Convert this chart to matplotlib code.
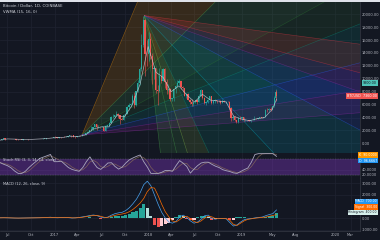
import numpy as np
import pandas as pd
import matplotlib
matplotlib.use('Agg')
import matplotlib.pyplot as plt
import matplotlib.dates as mdates
from matplotlib.patches import Polygon, Rectangle

# ---- data: BTC/USD (Coinbase), weekly candles + last two partial candles ----
candle_dates = list(pd.date_range('2016-06-01', periods=154, freq='7D')) + \
    [pd.Timestamp('2019-05-14'), pd.Timestamp('2019-05-17')]
first_open = 530
closes = [575, 690, 760, 665, 700, 650, 680, 660, 625, 590, 570, 580, 573,
          610, 608, 610, 602, 612, 617, 640, 655, 700, 712, 703, 730, 731,
          766, 770, 790, 890,
          # 2017
          1000, 910, 820, 925, 920, 1020, 1000, 1055, 1175, 1275, 1230, 970, 965,
          1090, 1210, 1180, 1250, 1350, 1590, 1790, 2050, 2200, 2520, 2950, 2530, 2530,
          2500, 2500, 1930, 2750, 2750, 3220, 4060, 4090, 4350, 4580, 4320, 3700, 3660,
          4400, 4600, 5680, 5980, 6140, 7400, 5870, 8040, 9300,
          11500, 15200, 19100, 13900, 13800,
          # 2018
          16200, 13600, 11500, 11700, 8200, 8100, 10400, 9650, 11500, 9550, 8200, 8450,
          6850, 7000, 8350, 8900, 9350, 9650, 8700, 8500, 7350, 7700, 6750, 6450, 6150,
          6350, 6750, 6350, 7400, 8200, 7030, 6300, 6400, 6700, 7300, 6250, 6500, 6700, 6630,
          6600, 6300, 6500, 6350, 6480, 6400, 5550, 3950, 4150, 3600, 3250, 4000, 3900,
          # 2019
          4050, 3550, 3550, 3550, 3420, 3650, 3670, 3830, 3800, 3920, 4020, 3990, 4100,
          5200, 5150, 5320, 5200, 5750, 7000, 7990, 7360]
highs = [585, 700, 780, 770, 705, 700, 685, 680, 665, 630, 600, 590, 585,
         615, 630, 612, 610, 615, 620, 645, 660, 720, 745, 725, 755, 745,
         770, 775, 795, 900,
         1000, 1150, 920, 935, 925, 1040, 1060, 1060, 1200, 1290, 1330, 1260, 1080,
         1100, 1215, 1215, 1255, 1350, 1600, 1850, 2100, 2760, 2550, 2980, 2980, 2770,
         2590, 2640, 2560, 2900, 2800, 3280, 4200, 4480, 4400, 4980, 4680, 4350, 4100,
         4470, 4630, 5840, 6200, 6300, 7600, 7880, 8100, 9750,
         11800, 17000, 19800, 19200, 16000,
         17200, 17100, 14000, 12000, 11700, 9100, 11700, 11200, 11700, 11700, 9950, 9200,
         8600, 7100, 8450, 9050, 9750, 9960, 9650, 8900, 8550, 7780, 7750, 6850, 6800,
         6400, 6780, 6800, 7580, 8480, 8200, 7150, 6600, 6900, 7400, 7400, 6650, 6820, 6720,
         6690, 6680, 6900, 6550, 6500, 6550, 6500, 5650, 4390, 4200, 3600, 4150, 4200,
         4100, 4150, 3740, 3650, 3550, 3680, 3720, 4200, 3880, 3940, 4030, 4100, 4130,
         5300, 5470, 5400, 5630, 5840, 7400, 8400, 8300]
lows = [520, 570, 690, 560, 620, 610, 640, 650, 600, 520, 565, 565, 565,
        570, 600, 600, 590, 600, 605, 615, 625, 650, 680, 690, 695, 725,
        725, 755, 765, 790,
        890, 780, 750, 810, 880, 915, 960, 990, 1050, 1170, 1000, 950, 890,
        960, 1075, 1155, 1180, 1245, 1350, 1580, 1700, 1850, 2050, 2500, 2120, 2370,
        2400, 2480, 1840, 1920, 2600, 2660, 3200, 3980, 3950, 4300, 4000, 2980, 3600,
        3650, 4200, 4600, 5100, 5600, 6100, 5500, 5850, 8000,
        9000, 11200, 15000, 10400, 12000,
        12800, 13000, 9200, 10000, 7800, 6000, 8000, 9300, 9600, 8500, 7700, 8100,
        6550, 6600, 6600, 7800, 8800, 9050, 8350, 7950, 7300, 7050, 6650, 6150, 5800,
        5760, 6240, 6070, 6330, 7380, 6920, 6100, 5880, 6270, 6680, 6120, 6150, 6320, 6300,
        6450, 6100, 6250, 6330, 6250, 6330, 5200, 3500, 3680, 3450, 3150, 3200, 3550,
        3650, 3480, 3500, 3450, 3390, 3370, 3560, 3650, 3700, 3730, 3850, 3950, 3940,
        4100, 4890, 5000, 5060, 5150, 5650, 6900, 6600]
candle_days = [5] * 154 + [2.5, 2.5]

# VWMA (month starts, then last bar)
vwma_dates = list(pd.date_range('2016-06-01', periods=36, freq='MS')) + [pd.Timestamp('2019-05-17')]
vwma = [480, 680, 650, 575, 605, 670, 735,
        870, 900, 1110, 1030, 1290, 2200, 2550, 2550, 4300, 4100, 6000, 9200,
        15000, 11000, 10200, 8000, 8900, 7500, 6400, 7600, 6700, 6550, 6420, 4200,
        3750, 3500, 3800, 4000, 5300, 6800]

# oscillators, every 14 days
osc_dates = pd.date_range('2016-06-03', periods=78, freq='14D')
stoch_k = [66, 60, 55, 47, 35, 26, 26, 34, 48, 60, 71, 82, 87, 92, 97, 70, 70, 72, 60, 48,
           41, 37, 34, 48, 70, 88, 66, 48, 41, 52, 65, 66, 52, 42, 50, 65, 77, 84, 90, 95,
           70, 50, 26, 26, 26, 30, 37, 37, 34, 55, 74, 64, 52, 27, 42, 55, 65, 68, 68, 60,
           53, 48, 40, 36, 33, 28, 26, 33, 40, 46, 68, 97, 100, 100, 100, 100, 100, 90]
macd_line = [20, 25, 15, 5, -5, -10, 0, 5, 10, 15, 20, 25, 35, 50, 70, 30, 20, 40, 60, 30,
             0, 20, 50, 100, 150, 220, 260, 200, 80, 20, 80, 250, 380, 450, 500, 650, 900, 1250,
             1650, 2200, 2900, 3200, 2800, 2000, 1200, 500, 0, -350, -450, -300, 100, 250,
             50, -250, -450, -350, -100, 200, 250, -50, -100, -30, -40, -70, -400, -700, -600,
             -350, -150, -80, -50, 10, 50, 80, 200, 300, 380, 700]
signal_line = [15, 20, 18, 10, 0, -5, -5, 0, 5, 10, 15, 20, 28, 40, 55, 45, 30, 30, 50, 45,
               15, 10, 35, 70, 120, 170, 230, 230, 150, 60, 50, 150, 230, 300, 350, 420, 550,
               750, 1000, 1300, 1700, 2300, 2650, 2600, 1950, 1200, 550, 100, -250, -350, -150,
               100, 150, -50, -300, -400, -250, 0, 150, 100, -50, -60, -40, -50, -200, -550,
               -650, -450, -250, -120, -70, -20, 20, 50, 80, 150, 220, 300]

# fan drawings: (date, price) origin and unit point
fanA_origin = ('2017-04-18', 1300)
fanA_anchor = ('2018-05-14', 16800)
fanA_levels = [2.4, 1.0, 0.55, 0.4, 0.26, 0.16, 0.08]
fanA_colors = ['#ff9800', '#4caf50', '#2e7d32', '#089981', '#2962ff', '#9c27b0']
fanB_origin = ('2017-12-17', 19800)
fanB_anchor = ('2018-12-15', 4500)
fanB_levels = [8, 4, 3, 2, 1, 1 / 2, 1 / 3, 1 / 4, 1 / 8]
fanB_colors = ['#4caf50', '#4caf50', '#8bc34a', '#089981', '#00bcd4', '#2962ff', '#9c27b0', '#f23645']
marker_price = 9300

tick_dates = ['2016-07-01', '2016-10-01', '2017-01-01', '2017-04-01', '2017-07-01', '2017-10-01',
              '2018-01-01', '2018-04-01', '2018-07-01', '2018-10-01', '2019-01-01', '2019-05-01',
              '2019-08-01', '2020-01-01', '2020-03-01']
tick_labels = ['Jul', 'Oct', '2017', 'Apr', 'Jul', 'Oct', '2018', 'Apr', 'Jul', 'Oct', '2019',
               'May', 'Aug', '2020', 'Mar']

# ---- style ----
bg = '#131722'
grid_c = '#1f2331'
sep_c = '#363a45'
txt_c = '#b2b5be'
up_c, dn_c = '#26a69a', '#ef5350'
fs = 2.6

W, H = 380, 240
fig = plt.figure(figsize=(3.8, 2.4), dpi=100, facecolor=bg)


def box(x0, y0, x1, y1):
    return [x0 / W, 1 - y1 / H, (x1 - x0) / W, (y1 - y0) / H]


ax = fig.add_axes(box(0, 2, 360, 153))
ax_st = fig.add_axes(box(0, 153, 360, 178), sharex=ax)
ax_m = fig.add_axes(box(0, 178, 360, 231), sharex=ax)
fig.patches.append(Rectangle((0, 1 - 1.5 / H), 1, 1.5 / H, transform=fig.transFigure,
                             fc='#dfe2ea', ec='none'))

for a in (ax, ax_st, ax_m):
    a.set_facecolor(bg)
    for s in a.spines.values():
        s.set_visible(False)
    for side in ('right', 'bottom'):
        a.spines[side].set_visible(True)
        a.spines[side].set_color(sep_c)
        a.spines[side].set_linewidth(0.5)
    a.yaxis.tick_right()
    a.tick_params(axis='y', length=0, pad=1.5, labelsize=fs, labelcolor=txt_c)
    a.tick_params(axis='x', length=0, pad=1.5, labelsize=fs, labelcolor=txt_c)
    a.grid(True, color=grid_c, lw=0.5)
    a.set_axisbelow(True)

x_c = mdates.date2num(candle_dates)
x_o = mdates.date2num(osc_dates)


# ---- fans ----
def gann_fan(a, origin, anchor, levels, colors, t=60):
    x0 = mdates.date2num(pd.Timestamp(origin[0]))
    y0 = origin[1]
    dx = mdates.date2num(pd.Timestamp(anchor[0])) - x0
    dy = anchor[1] - y0
    ends = [(x0 + t * dx, y0 + t * dy * k) for k in levels]
    for e1, e2, c in zip(ends[:-1], ends[1:], colors):
        a.add_patch(Polygon([(x0, y0), e1, e2], closed=True, fc=c, ec='none', alpha=0.15, zorder=1))
    line_cols = colors + [colors[-1]]
    for e, c in zip(ends, line_cols):
        a.plot([x0, e[0]], [y0, e[1]], color=c, lw=0.4, alpha=0.45, zorder=1.5)


gann_fan(ax, fanA_origin, fanA_anchor, fanA_levels, fanA_colors)
gann_fan(ax, fanB_origin, fanB_anchor, fanB_levels, fanB_colors)

# ---- candles ----
opens = np.array([first_open] + closes[:-1], dtype=float)
cl = np.array(closes, dtype=float)
up = cl >= opens
cols = np.where(up, up_c, dn_c)
ax.vlines(x_c, lows, highs, colors=cols, lw=0.4, zorder=3)
ax.bar(x_c, np.maximum(np.abs(cl - opens), 20), bottom=np.minimum(cl, opens),
       width=candle_days, color=cols, lw=0, zorder=3)
ax.plot(mdates.date2num(vwma_dates), vwma, color='#c8cbd6', lw=0.5, alpha=0.8, zorder=4)

ax.set_ylim(-1500, 21900)
ax.set_yticks(np.arange(0, 20001, 2000))
ax.set_yticklabels(['%.2f' % v for v in np.arange(0, 20001, 2000)])
ax.tick_params(axis='x', labelbottom=False)

ax.text(0.008, 0.985, 'Bitcoin / Dollar, 1D, COINBASE', transform=ax.transAxes, va='top',
        ha='left', fontsize=2.8, color='#d1d4dc')
ax.text(0.008, 0.945, 'VWMA (15, 16, 0)', transform=ax.transAxes, va='top',
        ha='left', fontsize=2.8, color='#d1d4dc')

ax.annotate('%.2f' % marker_price, xy=(377 / 360, marker_price), xycoords=('axes fraction', 'data'),
            ha='right', va='center', fontsize=2.4, color='#131722', annotation_clip=False,
            bbox=dict(boxstyle='square,pad=0.3', fc='#4fc3b8', ec='none'), zorder=10)
ax.annotate('BTCUSD  %.2f' % closes[-1], xy=(377 / 360, closes[-1]), xycoords=('axes fraction', 'data'),
            ha='right', va='center', fontsize=2.4, color='white', annotation_clip=False,
            bbox=dict(boxstyle='square,pad=0.3', fc='#ef5350', ec='none'), zorder=10)

# ---- stoch rsi ----
k_s = pd.Series(stoch_k, dtype=float)
d_s = k_s.rolling(3, min_periods=1).mean()
ax_st.axhspan(20, 80, color='#8e3ad6', alpha=0.35, lw=0, zorder=1)
ax_st.axhline(80, color='#787b86', lw=0.3, ls=(0, (2, 2)), zorder=1.5)
ax_st.axhline(20, color='#787b86', lw=0.3, ls=(0, (2, 2)), zorder=1.5)
ax_st.plot(x_o, d_s, color='#8c6f5a', lw=0.5, alpha=0.8, zorder=2)
ax_st.plot(x_o, k_s, color='#a9a7bd', lw=0.6, zorder=3)
ax_st.set_ylim(8.75, 102.5)
ax_st.set_yticks([20, 40])
ax_st.set_yticklabels(['20.0000', '40.0000'])
ax_st.tick_params(axis='x', labelbottom=False)
ax_st.text(0.008, 0.80, 'Stoch RSI (3, 3, 14, 14, close)', transform=ax_st.transAxes, va='top',
           ha='left', fontsize=2.6, color='#d1d4dc')
ax_st.annotate('K  %.4f' % k_s.iloc[-1], xy=(377 / 360, 0.93), xycoords='axes fraction',
               ha='right', va='center', fontsize=2.3, color='white', annotation_clip=False,
               bbox=dict(boxstyle='square,pad=0.3', fc='#ff9800', ec='none'), zorder=10)
ax_st.annotate('D  %.4f' % d_s.iloc[-1], xy=(377 / 360, 0.70), xycoords='axes fraction',
               ha='right', va='center', fontsize=2.3, color='white', annotation_clip=False,
               bbox=dict(boxstyle='square,pad=0.3', fc='#2196f3', ec='none'), zorder=10)

# ---- macd ----
macd = np.array(macd_line, dtype=float)
signal = np.array(signal_line, dtype=float)
hist = macd - signal
prev = np.r_[hist[0], hist[:-1]]
h_cols = np.where(hist >= 0, np.where(hist >= prev, '#26a69a', '#b2dfdb'),
                  np.where(hist < prev, '#ef5350', '#ffcdd2'))
ax_m.bar(x_o, hist, width=12, color=h_cols, lw=0, zorder=2)
ax_m.plot(x_o, macd, color='#4aa3f0', lw=0.5, zorder=3)
ax_m.plot(x_o, signal, color='#ff6d00', lw=0.5, zorder=3)
ax_m.set_ylim(-1130, 3478)
ax_m.set_yticks([-1000, 0, 2000, 3000])
ax_m.set_yticklabels(['-1000.00', '0.00', '2000.00', '3000.00'])
ax_m.text(0.008, 0.93, 'MACD (12, 26, close, 9)', transform=ax_m.transAxes, va='top',
          ha='left', fontsize=2.6, color='#d1d4dc')
for lbl, val, yf, fc, tc in [('MACD', macd[-1], 0.56, '#2196f3', 'white'),
                             ('Signal', signal[-1], 0.455, '#ff6d00', 'white'),
                             ('Histogram', hist[-1], 0.35, '#d7f0ec', '#131722')]:
    ax_m.annotate('%s  %.2f' % (lbl, val), xy=(377 / 360, yf), xycoords='axes fraction',
                  ha='right', va='center', fontsize=2.2, color=tc, annotation_clip=False,
                  bbox=dict(boxstyle='square,pad=0.25', fc=fc, ec='none'), zorder=10)

ax_m.set_xticks(mdates.date2num(pd.to_datetime(tick_dates)))
ax_m.set_xticklabels(tick_labels)
ax.set_xlim(mdates.date2num(pd.Timestamp('2016-06-02')), mdates.date2num(pd.Timestamp('2020-04-07')))

fig.savefig('out.png', dpi=100, facecolor=bg)
